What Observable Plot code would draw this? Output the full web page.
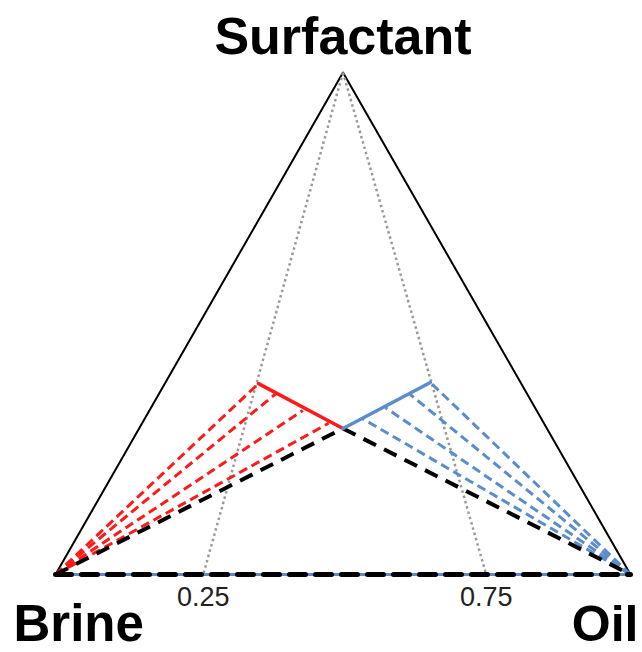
<!DOCTYPE html>
<html>
<head>
<meta charset="utf-8">
<script src="https://cdn.jsdelivr.net/npm/d3@7"></script>
<script src="https://cdn.jsdelivr.net/npm/@observablehq/plot@0.6"></script>
<style>
  html, body { margin: 0; padding: 0; background: #fff; }
  #chart svg { display: block; }
</style>
</head>
<body>
<div id="chart"></div>
<script>
// Vertices of the ternary diagram (Cartesian coordinates in base units)
const vertexNames = ["Brine", "Oil", "Surfactant"];
const vertexX = [0, 1, 0.5];
const vertexY = [0, 0, 0.873];

// Plait (critical) point where the two binodal branches meet
const plaitX = 0.5;
const plaitY = 0.254;

// Red (brine-rich / Type I) branch: points on the binodal, apex first
const redBranchX = [0.353, 0.384, 0.430, 0.475];
const redBranchY = [0.332, 0.315, 0.285, 0.263];

// Blue (oil-rich / Type II) branch: points on the binodal, apex first
const blueBranchX = [0.652, 0.617, 0.574, 0.534];
const blueBranchY = [0.334, 0.313, 0.290, 0.271];

// Dotted guide lines from the surfactant apex to the base
const tickPos = [0.257, 0.749];
const tickLabels = ["0.25", "0.75"];

// ---- build tables ----
const verts = vertexNames.map((n, i) => ({name: n, x: vertexX[i], y: vertexY[i]}));
const brine = verts[0], oil = verts[1], surf = verts[2];
const outline = [brine, oil, surf, brine];

const redTies = redBranchX.map((x, i) => ({x1: brine.x, y1: brine.y, x2: x, y2: redBranchY[i]}));
const blueTies = blueBranchX.map((x, i) => ({x1: oil.x, y1: oil.y, x2: x, y2: blueBranchY[i]}));
const redCurve = [{x: redBranchX[0], y: redBranchY[0]}, {x: plaitX, y: plaitY}];
const blueCurve = [{x: plaitX, y: plaitY}, {x: blueBranchX[0], y: blueBranchY[0]}];
const blackTies = [
  {x1: brine.x, y1: brine.y, x2: plaitX, y2: plaitY},
  {x1: plaitX, y1: plaitY, x2: oil.x, y2: oil.y}
];
const guides = tickPos.map((p, i) => ({x1: surf.x, y1: surf.y, x2: p, y2: 0, label: tickLabels[i]}));
const base = [brine, oil];

const font = "'Liberation Sans', Arial, Helvetica, sans-serif";
const RED = "#ff1a1a";
const BLUE = "#5b8ccc";

const chart = Plot.plot({
  width: 642,
  height: 652,
  marginLeft: 55,
  marginRight: 12,
  marginTop: 72,
  marginBottom: 78,
  x: {domain: [0, 1], axis: null},
  y: {domain: [0, 0.873], axis: null},
  style: {background: "#fff", fontFamily: font},
  marks: [
    // triangle outline
    Plot.line(outline, {x: "x", y: "y", stroke: "#000", strokeWidth: 2}),
    // dotted guides
    Plot.link(guides, {x1: "x1", y1: "y1", x2: "x2", y2: "y2", stroke: "#9a9a9a", strokeWidth: 2.5, strokeDasharray: "2.5,3"}),
    // red tie-lines
    Plot.link(redTies, {x1: "x1", y1: "y1", x2: "x2", y2: "y2", stroke: RED, strokeWidth: 3, strokeDasharray: "9,5"}),
    // blue tie-lines
    Plot.link(blueTies, {x1: "x1", y1: "y1", x2: "x2", y2: "y2", stroke: BLUE, strokeWidth: 3, strokeDasharray: "9,5"}),
    // black critical tie-lines
    Plot.link(blackTies, {x1: "x1", y1: "y1", x2: "x2", y2: "y2", stroke: "#000", strokeWidth: 4, strokeDasharray: "14,9"}),
    // base: blue solid under black dashed
    Plot.line(base, {x: "x", y: "y", stroke: BLUE, strokeWidth: 2.5}),
    Plot.line(base, {x: "x", y: "y", stroke: "#000", strokeWidth: 5, strokeDasharray: "16,10"}),
    // binodal branches
    Plot.line(redCurve, {x: "x", y: "y", stroke: RED, strokeWidth: 3.5}),
    Plot.line(blueCurve, {x: "x", y: "y", stroke: BLUE, strokeWidth: 3.5}),
    // tick labels
    Plot.text(guides, {x: "x2", y: "y2", text: "label", dy: 31, lineAnchor: "bottom", fontSize: 27, fill: "#222", fontFamily: font}),
    // vertex labels
    Plot.text([surf], {x: "x", y: "y", text: "name", dy: -19, lineAnchor: "bottom", fontSize: 52, fontWeight: "bold", fill: "#000", fontFamily: font}),
    Plot.text([brine], {x: "x", y: "y", text: "name", dx: -42, dy: 66, lineAnchor: "bottom", textAnchor: "start", fontSize: 51, fontWeight: "bold", fill: "#000", fontFamily: font}),
    Plot.text([oil], {x: "x", y: "y", text: "name", dx: 8, dy: 66, lineAnchor: "bottom", textAnchor: "end", fontSize: 50, fontWeight: "bold", fill: "#000", fontFamily: font})
  ]
});
document.getElementById("chart").appendChild(chart);
</script>
</body>
</html>
